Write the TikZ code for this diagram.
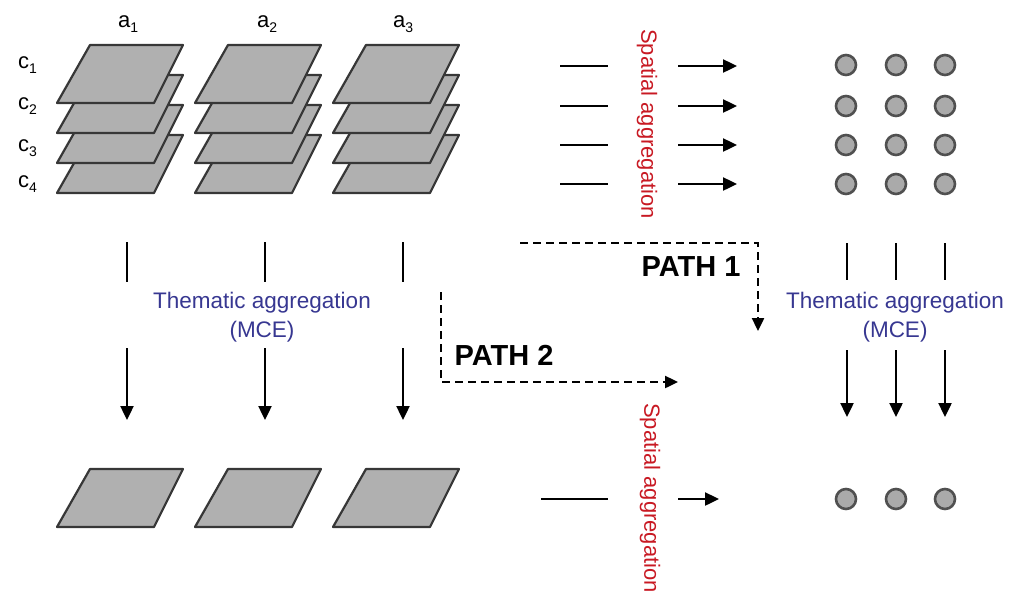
\documentclass[tikz,border=0pt]{standalone}
\usepackage{fontspec}
\setmainfont{Liberation Sans}
\usetikzlibrary{arrows.meta}

\definecolor{layerfill}{RGB}{176,176,176}
\definecolor{layeredge}{RGB}{55,55,55}
\definecolor{dotfill}{RGB}{170,170,170}
\definecolor{dotedge}{RGB}{80,80,80}
\definecolor{thematic}{RGB}{55,55,145}
\definecolor{spatial}{RGB}{200,25,35}

\tikzset{
  layer/.style={fill=layerfill, draw=layeredge, line width=2.2pt, line join=round},
  sheet/.pic={\path[layer] (0,0) -- (97,0) -- (126,-58) -- (33,-58) -- cycle;},
  dot/.style={circle, fill=dotfill, draw=dotedge, line width=2.6pt,
              minimum size=20pt, inner sep=0pt},
  flow/.style={line width=2.4pt},
  flowarrow/.style={line width=2.4pt, -{Triangle[length=14pt,width=13pt]}},
  pathline/.style={line width=2.4pt, dash pattern=on 8pt off 5pt,
                   -{Triangle[length=13pt,width=12pt]}},
  lbl/.style={font=\fontsize{22}{26}\selectfont, inner sep=0pt},
  thm/.style={font=\fontsize{22.5}{29}\selectfont, inner sep=0pt,
              text=thematic, align=center},
  spa/.style={lbl, text=spatial, rotate=-90},
  pathlbl/.style={font=\bfseries\fontsize{29}{32}\selectfont, inner sep=0pt},
}

\newcommand{\idx}[2]{#1\raisebox{-5pt}{\fontsize{14}{14}\selectfont #2}}

\begin{document}
\begin{tikzpicture}[x=1pt, y=-1pt]
  \useasboundingbox (0,0) rectangle (1017,592);

  % stacked criterion layers, bottom layer first
  \foreach \col/\xx in {1/57, 2/195, 3/333} {
    \foreach \k/\yy in {4/193, 3/163, 2/133, 1/103} {
      \pic (st\col\k) at (\xx,\yy) {sheet};
    }
  }

  % alternative and criterion labels
  \node[lbl, anchor=base west] (a1) at (118,27) {\idx{a}{1}};
  \node[lbl, anchor=base west] (a2) at (257,27) {\idx{a}{2}};
  \node[lbl, anchor=base west] (a3) at (393,27) {\idx{a}{3}};
  \node[lbl, anchor=base west] (c1) at (18,68) {\idx{c}{1}};
  \node[lbl, anchor=base west] (c2) at (18,109) {\idx{c}{2}};
  \node[lbl, anchor=base west] (c3) at (18,151) {\idx{c}{3}};
  \node[lbl, anchor=base west] (c4) at (18,187) {\idx{c}{4}};

  % thematic aggregation on the left
  \node[thm] (thL) at (262,317) {Thematic aggregation\\(MCE)};
  \foreach \i/\xx in {1/127, 2/265, 3/403} {
    \coordinate (lt\i) at (\xx,242);
    \coordinate (lm\i) at (\xx,282);
    \coordinate (la\i) at (\xx,348);
    \coordinate (lb\i) at (\xx,420);
    \draw[flow] (lt\i) -- (lm\i);
    \draw[flowarrow] (la\i) -- (lb\i);
  }

  % aggregated alternatives
  \pic (bs1) at (57,527) {sheet};
  \pic (bs2) at (195,527) {sheet};
  \pic (bs3) at (333,527) {sheet};

  % spatial aggregation at the top
  \node[spa] (spT) at (647,124) {Spatial aggregation};
  \foreach \r/\yy in {1/66, 2/106, 3/145, 4/184} {
    \coordinate (hs\r) at (560,\yy);
    \coordinate (he\r) at (608,\yy);
    \coordinate (as\r) at (678,\yy);
    \coordinate (ae\r) at (737,\yy);
    \draw[flow] (hs\r) -- (he\r);
    \draw[flowarrow] (as\r) -- (ae\r);
  }

  % grid of spatially aggregated values
  \foreach \r/\yy in {1/65, 2/106, 3/145, 4/184} {
    \foreach \c/\xx in {1/846, 2/896, 3/945} {
      \node[dot] (d\r\c) at (\xx,\yy) {};
    }
  }

  % thematic aggregation on the right
  \node[thm] (thR) at (895,317) {Thematic aggregation\\(MCE)};
  \foreach \i/\xx in {1/847, 2/896, 3/945} {
    \coordinate (rt\i) at (\xx,243);
    \coordinate (rm\i) at (\xx,280);
    \coordinate (ra\i) at (\xx,350);
    \coordinate (rb\i) at (\xx,417);
    \draw[flow] (rt\i) -- (rm\i);
    \draw[flowarrow] (ra\i) -- (rb\i);
  }

  % the two processing paths
  \coordinate (p1s) at (520,243);
  \coordinate (p1e) at (758,331);
  \draw[pathline] (p1s) -| (p1e);
  \node[pathlbl] (path1) at (691,267) {PATH 1};

  \coordinate (p2s) at (441,292);
  \coordinate (p2e) at (678,382);
  \draw[pathline] (p2s) |- (p2e);
  \node[pathlbl] (path2) at (504,355) {PATH 2};

  % spatial aggregation at the bottom
  \node[spa] (spB) at (650,498) {Spatial aggregation};
  \coordinate (bhs) at (541,499);
  \coordinate (bhe) at (608,499);
  \coordinate (bas) at (678,499);
  \coordinate (bae) at (719,499);
  \draw[flow] (bhs) -- (bhe);
  \draw[flowarrow] (bas) -- (bae);

  % final aggregated values
  \node[dot] (f1) at (846,499) {};
  \node[dot] (f2) at (896,499) {};
  \node[dot] (f3) at (945,499) {};
\end{tikzpicture}
\end{document}
